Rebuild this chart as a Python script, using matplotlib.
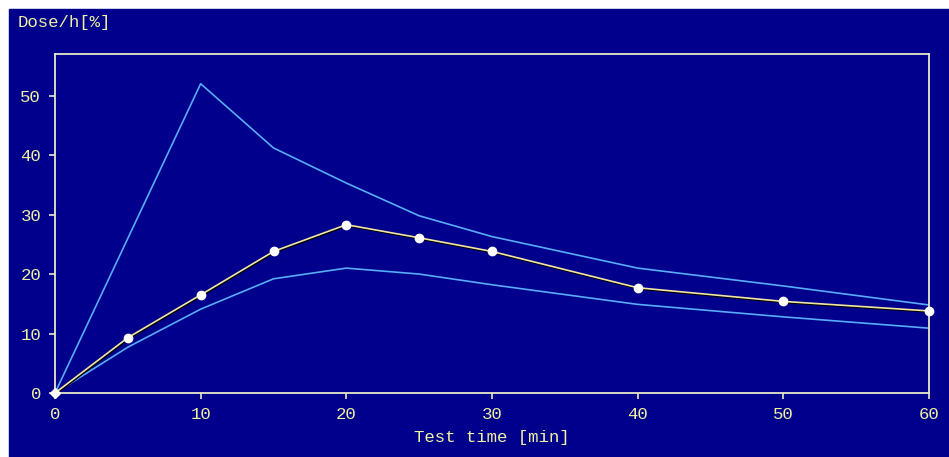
import matplotlib.pyplot as plt
import matplotlib.patheffects as pe
from matplotlib.patches import Rectangle

# data
test_time = [0, 5, 10, 15, 20, 25, 30, 40, 50, 60]
dose_mean = [0, 9.3, 16.5, 23.8, 28.3, 26.1, 23.8, 17.7, 15.4, 13.8]
dose_upper = [0, 26.0, 52.0, 41.2, 35.3, 29.8, 26.3, 21.0, 18.0, 14.8]
dose_lower = [0, 7.7, 14.1, 19.2, 21.0, 20.0, 18.2, 14.9, 12.8, 10.9]

x_ticks = [0, 10, 20, 30, 40, 50, 60]
y_ticks = [0, 10, 20, 30, 40, 50]

navy = '#00008C'
frame = '#E8E8C8'
txt = '#F0F0A0'
blue = '#58ACF8'
font = 'Liberation Mono'
fs = 12.5

W, H = 949, 457
fig = plt.figure(figsize=(W / 100, H / 100), dpi=100, facecolor='white')
# navy panel (white strip at top and left in the original)
fig.patches.append(Rectangle((9 / W, 0), (W - 9) / W, (H - 9) / H,
                             transform=fig.transFigure, color=navy, zorder=-10))

ax = fig.add_axes([55 / W, 64 / H, 874 / W, 339 / H])
ax.set_zorder(2)
ax.set_facecolor(navy)

ax.plot(test_time, dose_upper, color=blue, lw=1.2)
ax.plot(test_time, dose_lower, color=blue, lw=1.2)
ax.plot(test_time, dose_mean, color='#F2E6A0', lw=1.2,
        path_effects=[pe.SimpleLineShadow(offset=(0.6, -0.8), shadow_color='black', alpha=1),
                      pe.Normal()])
ax.plot(test_time[1:], dose_mean[1:], 'o', color='white', ms=6, mec='white',
        clip_on=False, zorder=5)
ax.plot(test_time[:1], dose_mean[:1], 'D', color='white', ms=5, clip_on=False, zorder=5)

ax.set_xlim(0, 60)
ax.set_ylim(0, 57)
ax.set_xticks(x_ticks)
ax.set_yticks(y_ticks)
for s in ax.spines.values():
    s.set_color(frame)
    s.set_linewidth(1.3)
ax.tick_params(colors=frame, length=4, width=1.2, labelcolor=txt, labelsize=fs, pad=6)
for lab in ax.get_xticklabels() + ax.get_yticklabels():
    lab.set_family(font)

ax.set_xlabel('Test time [min]', color=txt, fontsize=fs, family=font, labelpad=6)
fig.text(18 / W, 1 - 22 / H, 'Dose/h[%]', color=txt, fontsize=fs, family=font,
         ha='left', va='center')

fig.savefig('out.png', dpi=100, facecolor='white')
